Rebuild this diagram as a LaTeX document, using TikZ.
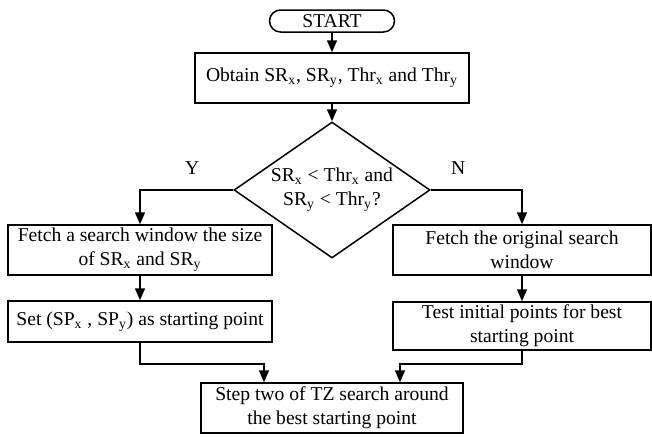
\documentclass[tikz,border=0pt]{standalone}
\usepackage{fontspec}
\setmainfont{Liberation Serif}
\usetikzlibrary{shapes.geometric, arrows.meta}
\newcommand{\lo}[1]{\textsubscript{#1}}

\begin{document}
\begin{tikzpicture}[x=0.5pt, y=-0.5pt,
    font=\fontsize{9.8}{12}\selectfont,
    box/.style={draw, line width=0.75pt, align=center, inner sep=0pt},
    decision/.style={draw, diamond, line width=0.75pt, align=center, inner sep=-20pt, minimum width=98pt, minimum height=68pt},
    line/.style={line width=0.75pt, -{Triangle[length=6pt, width=5pt]}}]
    \path[fill=white, use as bounding box] (0,0) rectangle (652,436);
    \node[box, rounded corners=5.5pt, minimum width=62.5pt, minimum height=11pt] (start) at (332,21) {START};
    \node[box, minimum width=137pt, minimum height=25pt] (obtain) at (332,78) {Obtain SR\lo{x}, SR\lo{y}, Thr\lo{x} and Thr\lo{y}};
    \node[decision] (check) at (332,190) {SR\lo{x} < Thr\lo{x} and\\SR\lo{y} < Thr\lo{y}?};
    \node[box, minimum width=132pt, minimum height=25pt] (fetchsmall) at (140,250) {Fetch a search window the size\\of SR\lo{x} and SR\lo{y}};
    \node[box, minimum width=129pt, minimum height=25pt] (fetchorig) at (522,250) {Fetch the original search\\window};
    \node[box, minimum width=132pt, minimum height=20.5pt] (setsp) at (140,321.5) {Set (SP\lo{x} , SP\lo{y}) as starting point};
    \node[box, minimum width=129pt, minimum height=24pt] (testinit) at (522,326) {Test initial points for best\\starting point};
    \node[box, minimum width=131pt, minimum height=25pt] (steptwo) at (332,408) {Step two of TZ search around\\the best starting point};
    \coordinate (join) at (332,364);
    \coordinate (inleft) at ([xshift=-34pt]steptwo.north);
    \coordinate (inright) at ([xshift=34pt]steptwo.north);

    \draw[line] (start) -- (obtain);
    \draw[line] (obtain) -- (check);
    \draw[line] (check.west) -| node[pos=0.22, above=4pt] {Y} (fetchsmall.north);
    \draw[line] (check.east) -| node[pos=0.15, above=4pt] {N} (fetchorig.north);
    \draw[line] (fetchsmall) -- (setsp);
    \draw[line] (fetchorig) -- (testinit);
    \draw[line] (setsp.south) -- (setsp.south |- join) -| (inleft);
    \draw[line] (testinit.south) -- (testinit.south |- join) -| (inright);
\end{tikzpicture}
\end{document}
